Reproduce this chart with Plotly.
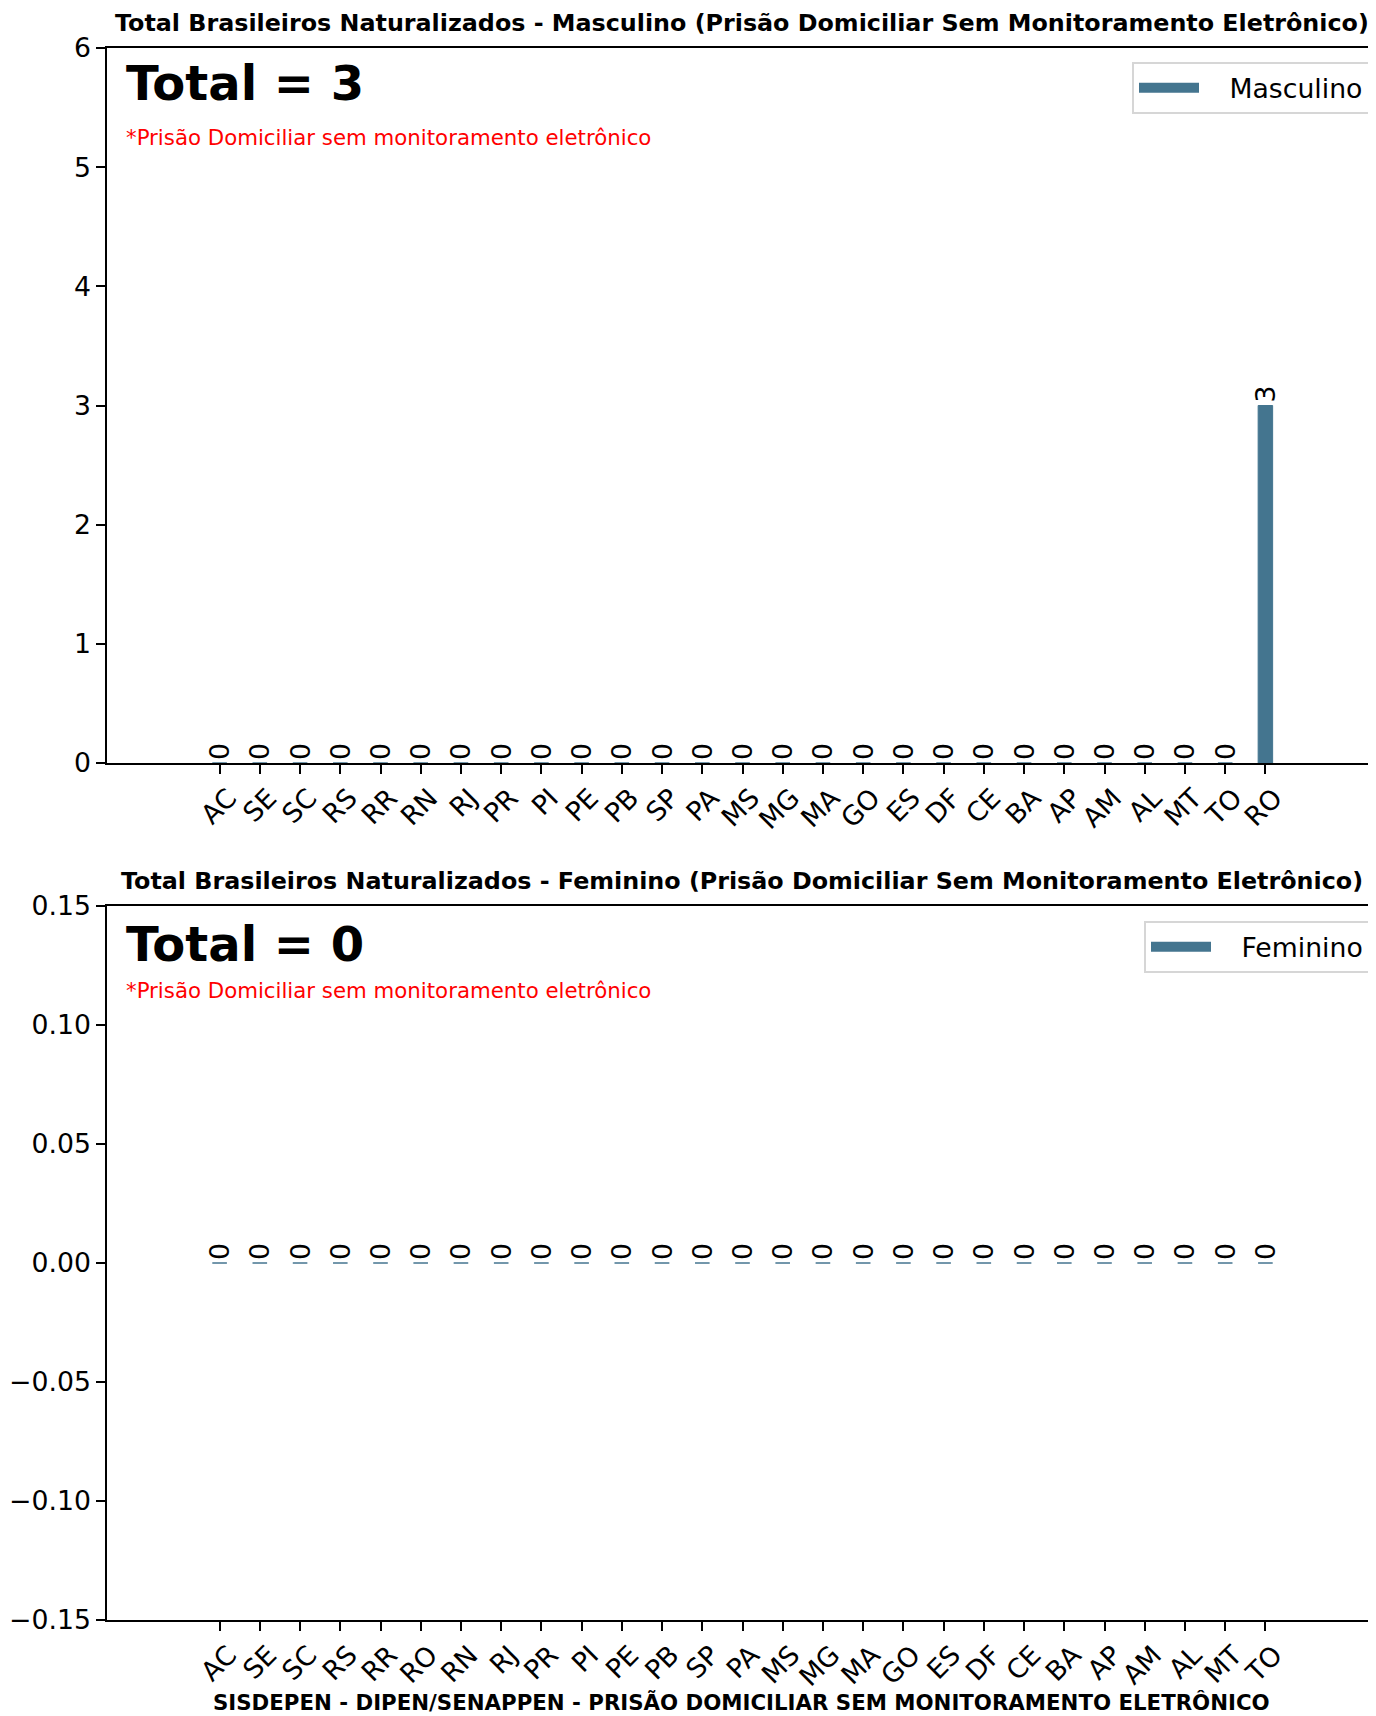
import plotly.graph_objects as go
from plotly.subplots import make_subplots

# ---- data ----
masc_states = ["AC", "SE", "SC", "RS", "RR", "RN", "RJ", "PR", "PI", "PE", "PB", "SP", "PA", "MS",
               "MG", "MA", "GO", "ES", "DF", "CE", "BA", "AP", "AM", "AL", "MT", "TO", "RO"]
masc_values = [0, 0, 0, 0, 0, 0, 0, 0, 0, 0, 0, 0, 0, 0,
               0, 0, 0, 0, 0, 0, 0, 0, 0, 0, 0, 0, 3]

fem_states = ["AC", "SE", "SC", "RS", "RR", "RO", "RN", "RJ", "PR", "PI", "PE", "PB", "SP", "PA",
              "MS", "MG", "MA", "GO", "ES", "DF", "CE", "BA", "AP", "AM", "AL", "MT", "TO"]
fem_values = [0] * 27

masc_title = "Total Brasileiros Naturalizados - Masculino (Prisão Domiciliar Sem Monitoramento Eletrônico)"
fem_title = "Total Brasileiros Naturalizados - Feminino (Prisão Domiciliar Sem Monitoramento Eletrônico)"
note = "*Prisão Domiciliar sem monitoramento eletrônico"
footer = "SISDEPEN - DIPEN/SENAPPEN - PRISÃO DOMICILIAR SEM MONITORAMENTO ELETRÔNICO"

BAR = "#44758f"
FONT = "DejaVu Sans"
OFF = 8  # page body margin
W, H = 1376 - OFF, 1716 - OFF
L, R, T = 107 - OFF, 0, 48 - OFF
B = H - (1620 - OFF)

fig = make_subplots(rows=2, cols=1, shared_xaxes=False)

for row, states, vals, name, leg in [(1, masc_states, masc_values, "Masculino", "legend"),
                                     (2, fem_states, fem_values, "Feminino", "legend2")]:
    fig.add_trace(go.Bar(x=states, y=vals, name=name, width=0.36, showlegend=False,
                         marker=dict(color=BAR, line=dict(color=BAR, width=1)),
                         text=[str(v) for v in vals], textposition="outside",
                         textangle=-90, constraintext="none",
                         textfont=dict(size=26.7, color="black", family=FONT),
                         cliponaxis=False), row=row, col=1)
    # legend entry drawn as a wide patch
    fig.add_trace(go.Scatter(x=[None], y=[None], mode="lines", name="\u00a0\u00a0\u00a0" + name,
                             line=dict(color=BAR, width=19), legend=leg,
                             showlegend=True), row=row, col=1)

ph = H - T - B
pw = W - L - R

def px(xfull):
    return (xfull - OFF - L) / pw

def py(yfull):
    return (H - B - (yfull - OFF)) / ph

top_dom = [py(763), 1.0]
bot_dom = [0.0, py(906)]

axcommon = dict(showline=True, linecolor="black", linewidth=1.5, ticks="outside",
                ticklen=9, tickwidth=1.5, tickcolor="black", showgrid=False, zeroline=False,
                tickfont=dict(size=26.7, color="black", family=FONT))

fig.update_xaxes(**axcommon, tickangle=-45, mirror=True, range=[-2.8, 28.75],
                 ticklabelshift=9, ticklabelstandoff=-2)
fig.update_yaxes(**axcommon)
fig.update_yaxes(range=[0, 6], dtick=1, domain=top_dom, row=1, col=1)
fig.update_yaxes(range=[-0.15, 0.15], dtick=0.05, tickformat=".2f", domain=bot_dom, row=2, col=1)

ann = []
for title, ytitle, vals, ytot, ynote in [(masc_title, 23, masc_values, 83, 137),
                                         (fem_title, 881, fem_values, 944, 990)]:
    ann.append(dict(text="<b>%s</b>" % title, x=0.5, y=py(ytitle), xref="paper", yref="paper",
                    showarrow=False, xanchor="center", yanchor="middle",
                    font=dict(size=23.8, color="black", family=FONT)))
    ann.append(dict(text="<b>Total = %d</b>" % sum(vals), x=px(124), y=py(ytot), xref="paper",
                    yref="paper", showarrow=False, xanchor="left", yanchor="middle",
                    font=dict(size=48, color="black", family=FONT)))
    ann.append(dict(text=note, x=px(124), y=py(ynote), xref="paper", yref="paper",
                    showarrow=False, xanchor="left", yanchor="middle",
                    font=dict(size=21.3, color="red", family=FONT)))
ann.append(dict(text="<b>%s</b>" % footer, x=0.5, y=py(1702), xref="paper", yref="paper",
                showarrow=False, xanchor="center", yanchor="middle",
                font=dict(size=21.3, color="black", family=FONT)))

legstyle = dict(bgcolor="white", bordercolor="#d6d6d6", borderwidth=2,
                font=dict(size=26.7, color="black", family=FONT), xanchor="right", yanchor="top",
                itemwidth=60)

fig.update_layout(
    width=W, height=H, margin=dict(l=L, r=R, t=T, b=B),
    paper_bgcolor="white", plot_bgcolor="white",
    font=dict(family=FONT, color="black"),
    annotations=ann,
    legend=dict(**legstyle, x=px(1370), y=py(62)),
    legend2=dict(**legstyle, x=px(1370), y=py(921)),
    bargap=0.5,
)

fig.write_html("out.html")
